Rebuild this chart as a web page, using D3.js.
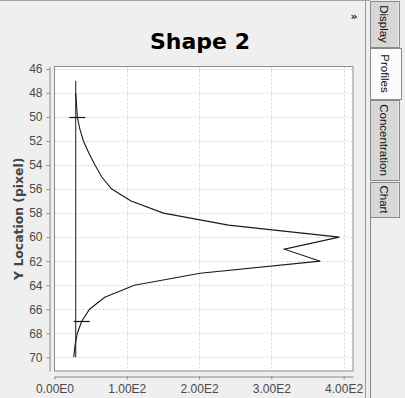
<!DOCTYPE html>
<html>
<head>
<meta charset="utf-8">
<script src="https://cdn.jsdelivr.net/npm/d3@7"></script>
<style>
  body { margin: 0; background: #efefef; }
  svg { display: block; }
</style>
</head>
<body>
<div id="chart"></div>
<script>
// profile data
const yLocations = [48, 49, 50, 51, 52, 53, 54, 55, 56, 57, 58, 59, 60, 61, 62, 63, 64, 65, 66, 67, 68, 69, 70];
const profileValues = [29.4, 30.5, 31.6, 35, 40, 47.5, 56, 65.4, 79.2, 106, 150.7, 240.7, 394, 318, 367.7, 201.5, 110.5, 69.5, 48.5, 37.7, 31.6, 28.4, 26.6];
const baselineValue = 29.4;
const baselineRange = [47, 70];
const markerLocations = [50, 67];
const yTicks = [46, 48, 50, 52, 54, 56, 58, 60, 62, 64, 66, 68, 70];
const xTicks = [0, 100, 200, 300, 400];
const tabNames = ['Display', 'Profiles', 'Concentration', 'Chart'];
const selectedTab = 'Profiles';

const width = 405, height = 398;
const plot = { left: 54.5, top: 66.5, right: 353, bottom: 371 };

const svg = d3.select('#chart')
  .append('svg')
  .attr('width', width)
  .attr('height', height);

// window frame
svg.append('line')
  .attr('x1', 0).attr('x2', 370).attr('y1', 0.5).attr('y2', 0.5)
  .attr('stroke', '#a3a3a3');
svg.append('line')
  .attr('x1', 365.5).attr('x2', 365.5).attr('y1', 0).attr('y2', height)
  .attr('stroke', '#9a9a9a');

const x = d3.scaleLinear().domain([0, 413]).range([plot.left, plot.right]);
const y = d3.scaleLinear().domain([45.8, 71.14]).range([plot.top, plot.bottom]);

svg.append('rect')
  .attr('x', plot.left).attr('y', plot.top)
  .attr('width', plot.right - plot.left).attr('height', plot.bottom - plot.top)
  .attr('fill', '#ffffff');

// grid
svg.append('g')
  .selectAll('line')
  .data(yTicks)
  .join('line')
  .attr('x1', plot.left).attr('x2', plot.right)
  .attr('y1', d => Math.round(y(d)) + 0.5).attr('y2', d => Math.round(y(d)) + 0.5)
  .attr('stroke', '#d4d4d4')
  .attr('stroke-dasharray', '2,2');

svg.append('g')
  .selectAll('line')
  .data(xTicks.filter(d => d > 0))
  .join('line')
  .attr('x1', d => Math.round(x(d)) + 0.5).attr('x2', d => Math.round(x(d)) + 0.5)
  .attr('y1', plot.top).attr('y2', plot.bottom)
  .attr('stroke', '#d4d4d4')
  .attr('stroke-dasharray', '2,2');

svg.append('rect')
  .attr('x', plot.left).attr('y', plot.top)
  .attr('width', plot.right - plot.left).attr('height', plot.bottom - plot.top)
  .attr('fill', 'none')
  .attr('stroke', '#8c8c8c');

// axes
function sciFormat(v) {
  if (v === 0) return '0.00E0';
  const e = Math.floor(Math.log10(Math.abs(v)));
  return (v / Math.pow(10, e)).toFixed(2) + 'E' + e;
}

const yAxis = svg.append('g')
  .attr('transform', 'translate(49.5,0)')
  .call(d3.axisLeft(y).tickValues(yTicks).tickSize(3).tickSizeOuter(0).tickPadding(4).tickFormat(d3.format('d')));

const xAxis = svg.append('g')
  .attr('transform', 'translate(0,376.5)')
  .call(d3.axisBottom(x).tickValues(xTicks).tickSize(3).tickSizeOuter(0).tickPadding(5).tickFormat(sciFormat));

[yAxis, xAxis].forEach(ax => {
  ax.select('.domain').attr('stroke', '#888888');
  ax.selectAll('.tick line').attr('stroke', '#888888');
  ax.selectAll('.tick text')
    .attr('fill', '#4a4a4a')
    .style('font-family', '"Liberation Sans", Arial, sans-serif')
    .style('font-size', '12px');
});

// series
const line = d3.line()
  .x(d => x(d[0]))
  .y(d => y(d[1]));

svg.append('path')
  .datum(baselineRange.map(v => [baselineValue, v]))
  .attr('d', line)
  .attr('fill', 'none')
  .attr('stroke', '#1a1a1a')
  .attr('stroke-width', 1);

svg.append('path')
  .datum(yLocations.map((v, i) => [profileValues[i], v]))
  .attr('d', line)
  .attr('fill', 'none')
  .attr('stroke', '#1a1a1a')
  .attr('stroke-width', 1.1);

svg.append('g')
  .selectAll('line')
  .data(markerLocations)
  .join('line')
  .attr('x1', d => x(profileValues[yLocations.indexOf(d)]) - 8)
  .attr('x2', d => x(profileValues[yLocations.indexOf(d)]) + 8)
  .attr('y1', d => Math.round(y(d)) + 0.5)
  .attr('y2', d => Math.round(y(d)) + 0.5)
  .attr('stroke', '#111111')
  .attr('stroke-width', 1.2);

// titles
svg.append('text')
  .attr('x', 200)
  .attr('y', 49)
  .attr('text-anchor', 'middle')
  .style('font-family', '"DejaVu Sans", sans-serif')
  .style('font-weight', 'bold')
  .style('font-size', '22px')
  .attr('fill', '#000000')
  .text('Shape 2');

svg.append('text')
  .attr('transform', `translate(23,${(plot.top + plot.bottom) / 2}) rotate(-90)`)
  .attr('text-anchor', 'middle')
  .style('font-family', '"DejaVu Sans", sans-serif')
  .style('font-weight', 'bold')
  .style('font-size', '12.4px')
  .attr('fill', '#444444')
  .text('Y Location (pixel)');

svg.append('text')
  .attr('x', 354)
  .attr('y', 20)
  .attr('text-anchor', 'middle')
  .style('font-family', '"DejaVu Sans", sans-serif')
  .style('font-weight', 'bold')
  .style('font-size', '11px')
  .attr('fill', '#222222')
  .text('»');

// tab strip on the right
const tabBounds = [[1, 47], [48, 99], [100, 180], [182, 217]];

svg.append('line')
  .attr('x1', 370.5).attr('x2', 370.5).attr('y1', 217).attr('y2', height)
  .attr('stroke', '#8a8a8a');

const tabs = svg.append('g')
  .selectAll('g')
  .data(tabNames)
  .join('g');

tabs.append('rect')
  .attr('x', 370.5)
  .attr('y', (d, i) => tabBounds[i][0] + 0.5)
  .attr('width', d => d === selectedTab ? 31 : 29)
  .attr('height', (d, i) => tabBounds[i][1] - tabBounds[i][0])
  .attr('fill', d => d === selectedTab ? '#fbfbfb' : '#d7d7d7')
  .attr('stroke', '#8a8a8a');

tabs.filter(d => d !== selectedTab)
  .append('line')
  .attr('x1', 398.5).attr('x2', 398.5)
  .attr('y1', d => tabBounds[tabNames.indexOf(d)][0] + 1)
  .attr('y2', d => tabBounds[tabNames.indexOf(d)][1])
  .attr('stroke', '#ececec');

tabs.append('text')
  .attr('transform', (d, i) => `translate(${d === selectedTab ? 380.5 : 379.5},${(tabBounds[i][0] + tabBounds[i][1]) / 2}) rotate(90)`)
  .attr('text-anchor', 'middle')
  .style('font-family', '"Liberation Sans", Arial, sans-serif')
  .style('font-size', '11.5px')
  .attr('fill', '#111111')
  .text(d => d);
</script>
</body>
</html>
